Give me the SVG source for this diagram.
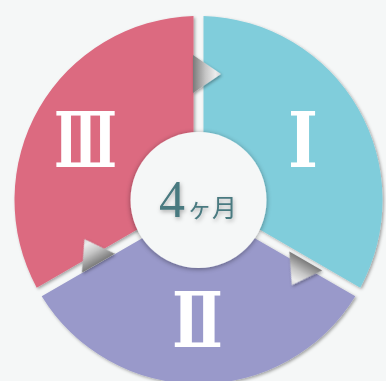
<svg xmlns="http://www.w3.org/2000/svg" width="386" height="381" viewBox="0 0 386 381">
  <defs>
    <filter id="segShadow" x="-10%" y="-10%" width="120%" height="120%">
      <feDropShadow dx="1.5" dy="1.5" stdDeviation="1.8" flood-color="#000" flood-opacity="0.35"/>
    </filter>
    <filter id="circShadow" x="-20%" y="-20%" width="140%" height="140%">
      <feDropShadow dx="0" dy="1" stdDeviation="2.5" flood-color="#000" flood-opacity="0.4"/>
    </filter>
    <filter id="arrowShadow" x="-40%" y="-40%" width="180%" height="180%">
      <feDropShadow dx="1" dy="1.5" stdDeviation="1.5" flood-color="#000" flood-opacity="0.35"/>
    </filter>
    <filter id="textShadow" x="-20%" y="-30%" width="140%" height="160%">
      <feDropShadow dx="1" dy="2" stdDeviation="2" flood-color="#000" flood-opacity="0.3"/>
    </filter>
    <linearGradient id="arrowGrad" x1="0" y1="0" x2="1" y2="0" gradientUnits="objectBoundingBox">
      <stop offset="0" stop-color="#7a7a7a"/>
      <stop offset="0.45" stop-color="#c6c6c6"/>
      <stop offset="0.8" stop-color="#ececec"/>
      <stop offset="1" stop-color="#d6d6d6"/>
    </linearGradient>
    <path id="tri" d="M0,-19 L28,0 L0,19 Z"/>
  </defs>
  <style>
    .numeral { font-family: "Liberation Serif", "DejaVu Serif", serif; font-weight: bold; fill: #ffffff; text-anchor: middle; }
    .arrow { fill: url(#arrowGrad); }
  </style>
  <rect width="386" height="381" fill="#f5f7f7"/>

  <g id="segment-I" filter="url(#segShadow)">
    <path d="M203.5,16.07 A184,184 0 0 1 360.29,287.64 L257.99,228.58 A66,66 0 0 0 203.5,134.19 Z" fill="#80cddb"/>
  </g>
  <g id="segment-II" filter="url(#segShadow)">
    <path d="M355.29,296.30 A184,184 0 0 1 41.71,296.30 L144.01,237.24 A66,66 0 0 0 252.99,237.24 Z" fill="#9999ca"/>
  </g>
  <g id="segment-III" filter="url(#segShadow)">
    <path d="M36.71,287.64 A184,184 0 0 1 193.5,16.07 L193.5,134.19 A66,66 0 0 0 139.01,228.58 Z" fill="#dc6a80"/>
  </g>

  <g id="connectors" filter="url(#arrowShadow)">
    <use href="#tri" class="arrow" transform="translate(193,74)"/>
    <use href="#tri" class="arrow" transform="translate(305.8,260.9) rotate(120)"/>
    <use href="#tri" class="arrow" transform="translate(98.4,263.3) rotate(240)"/>
  </g>

  <g id="center">
    <circle cx="198.5" cy="200" r="68" fill="#f5f7f7" filter="url(#circShadow)"/>
    <text x="159" y="217" fill="#4a7a80" filter="url(#textShadow)"><tspan font-family="Liberation Serif, serif" font-size="52">4</tspan><tspan font-family="Noto Sans CJK JP, sans-serif" font-size="25" dx="2">ヶ月</tspan></text>
  </g>

  <g id="label-I"><text class="numeral" x="303" y="167" font-size="76" textLength="30" lengthAdjust="spacingAndGlyphs">Ⅰ</text></g>
  <g id="label-II"><text class="numeral" x="197.5" y="347" font-size="76" textLength="51" lengthAdjust="spacingAndGlyphs">Ⅱ</text></g>
  <g id="label-III"><text class="numeral" x="85.5" y="167" font-size="76" textLength="63" lengthAdjust="spacingAndGlyphs">Ⅲ</text></g>
</svg>
